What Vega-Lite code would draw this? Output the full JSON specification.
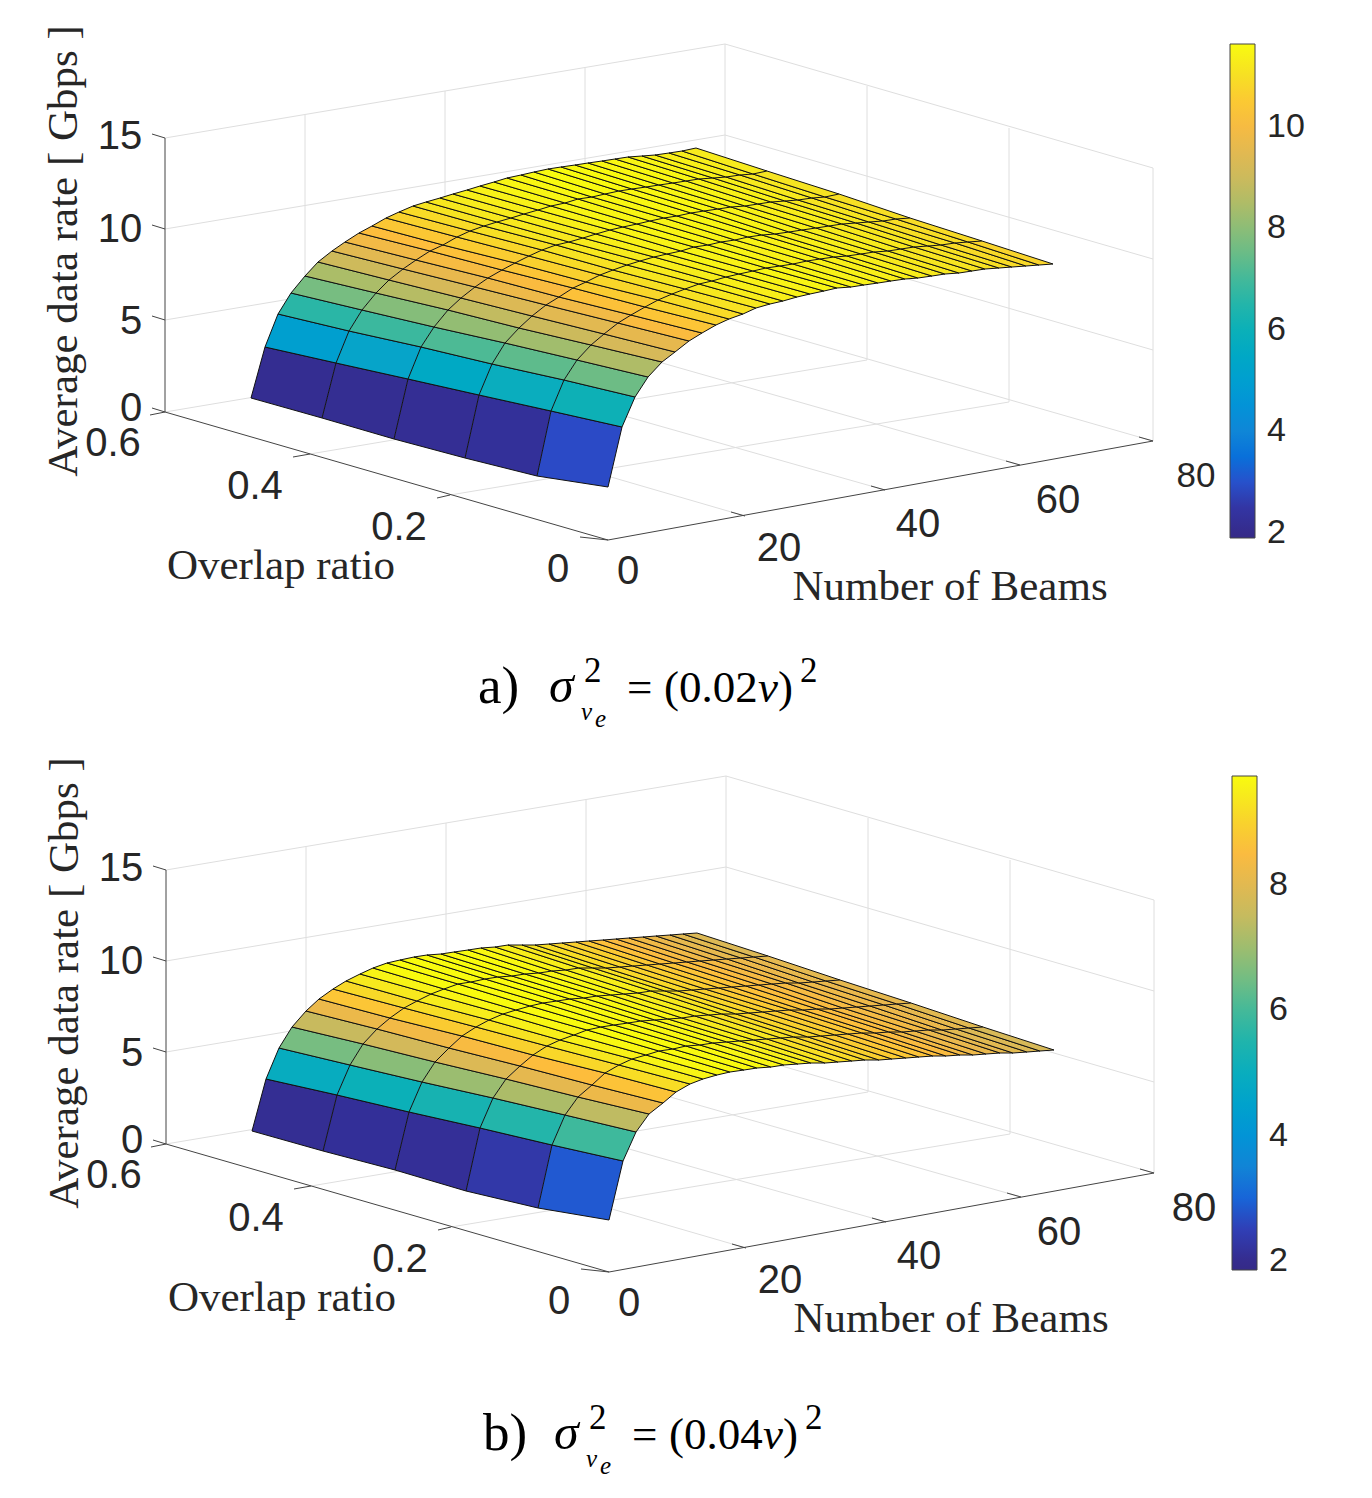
{"$schema":"https://vega.github.io/schema/vega-lite/v6.json","background":"white","padding":0,"spacing":0,"config":{"view":{"stroke":null}},
"resolve":{"scale":{"fill":"independent"},"legend":{"fill":"independent"}},
"datasets":{
"cells_a":[
{"c":4,"v":2.16,"x":[322,251,265,336],"y":[418,398,347,363]},{"c":3,"v":2.19,"x":[394,322,336,408],"y":[439,418,363,379]},{"c":2,"v":2.24,"x":[465,394,408,479],"y":[458,439,379,395]},{"c":1,"v":2.35,"x":[537,465,479,551],"y":[476,458,395,411]},{"c":0,"v":2.9,"x":[608,537,551,622,608],"y":[487,476,411,427,487]},
{"c":14,"v":5.04,"x":[336,265,278,349],"y":[363,347,314,331]},{"c":13,"v":5.29,"x":[408,336,349,421],"y":[379,363,331,347]},{"c":12,"v":5.55,"x":[479,408,421,492],"y":[395,379,347,364]},{"c":11,"v":5.8,"x":[551,479,492,564],"y":[411,395,364,380]},{"c":10,"v":6.05,"x":[622,551,564,635,622],"y":[427,411,380,397,427]},
{"c":24,"v":6.68,"x":[349,278,291,362],"y":[331,314,293,310]},{"c":23,"v":6.9,"x":[421,349,362,434],"y":[347,331,310,327]},{"c":22,"v":7.11,"x":[492,421,434,505],"y":[364,347,327,343]},{"c":21,"v":7.33,"x":[564,492,505,577],"y":[380,364,343,360]},{"c":20,"v":7.55,"x":[635,564,577,648,635],"y":[397,380,360,377,397]},
{"c":34,"v":7.7,"x":[362,291,305,376],"y":[310,293,276,293]},{"c":33,"v":7.9,"x":[434,362,376,448],"y":[327,310,293,310]},{"c":32,"v":8.1,"x":[505,434,448,519],"y":[343,327,310,328]},{"c":31,"v":8.3,"x":[577,505,519,591],"y":[360,343,328,345]},{"c":30,"v":8.5,"x":[648,577,591,662,648],"y":[377,360,345,362,377]},
{"c":44,"v":8.45,"x":[376,305,318,389],"y":[293,276,262,280]},{"c":43,"v":8.6,"x":[448,376,389,461],"y":[310,293,280,298]},{"c":42,"v":8.8,"x":[519,448,461,532],"y":[328,310,298,316]},{"c":41,"v":9.0,"x":[591,519,532,604],"y":[345,328,316,334]},{"c":40,"v":9.2,"x":[662,591,604,675,662],"y":[362,345,334,352,362]},
{"c":54,"v":9.05,"x":[389,318,332,403],"y":[280,262,251,269]},{"c":53,"v":9.2,"x":[461,389,403,475],"y":[298,280,269,287]},{"c":52,"v":9.35,"x":[532,461,475,546],"y":[316,298,287,305]},{"c":51,"v":9.5,"x":[604,532,546,618],"y":[334,316,305,323]},{"c":50,"v":9.6,"x":[675,604,618,689,675],"y":[352,334,323,341,352]},
{"c":64,"v":9.5,"x":[403,332,345,416],"y":[269,251,242,260]},{"c":63,"v":9.65,"x":[475,403,416,488],"y":[287,269,260,278]},{"c":62,"v":9.8,"x":[546,475,488,559],"y":[305,287,278,297]},{"c":61,"v":9.9,"x":[618,546,559,631],"y":[323,305,297,315]},{"c":60,"v":10.1,"x":[689,618,631,702,689],"y":[341,323,315,333,341]},
{"c":74,"v":9.9,"x":[416,345,359,430],"y":[260,242,233,251]},{"c":73,"v":10,"x":[488,416,430,502],"y":[278,260,251,270]},{"c":72,"v":10.1,"x":[559,488,502,573],"y":[297,278,270,288]},{"c":71,"v":10.3,"x":[631,559,573,645],"y":[315,297,288,307]},{"c":70,"v":10.4,"x":[702,631,645,716,702],"y":[333,315,307,325,333]},
{"c":84,"v":10.2,"x":[430,359,372,443],"y":[251,233,226,245]},{"c":83,"v":10.3,"x":[502,430,443,515],"y":[270,251,245,263]},{"c":82,"v":10.4,"x":[573,502,515,586],"y":[288,270,263,282]},{"c":81,"v":10.55,"x":[645,573,586,658],"y":[307,288,282,300]},{"c":80,"v":10.7,"x":[716,645,658,729,716],"y":[325,307,300,319,325]},
{"c":94,"v":10.45,"x":[443,372,386,457],"y":[245,226,218,237]},{"c":93,"v":10.55,"x":[515,443,457,529],"y":[263,245,237,256]},{"c":92,"v":10.65,"x":[586,515,529,600],"y":[282,263,256,275]},{"c":91,"v":10.8,"x":[658,586,600,672],"y":[300,282,275,294]},{"c":90,"v":10.9,"x":[729,658,672,743,729],"y":[319,300,294,314,319]},
{"c":104,"v":10.7,"x":[457,386,399,470],"y":[237,218,212,231]},{"c":103,"v":10.8,"x":[529,457,470,542],"y":[256,237,231,250]},{"c":102,"v":10.9,"x":[600,529,542,613],"y":[275,256,250,270]},{"c":101,"v":11,"x":[672,600,613,685],"y":[294,275,270,289]},{"c":100,"v":11.05,"x":[743,672,685,756,743],"y":[314,294,289,308,314]},
{"c":114,"v":10.9,"x":[470,399,413,484],"y":[231,212,206,226]},{"c":113,"v":11,"x":[542,470,484,556],"y":[250,231,226,245]},{"c":112,"v":11.05,"x":[613,542,556,627],"y":[270,250,245,265]},{"c":111,"v":11.15,"x":[685,613,627,699],"y":[289,270,265,284]},{"c":110,"v":11.2,"x":[756,685,699,770,756],"y":[308,289,284,304,308]},
{"c":124,"v":11.1,"x":[484,413,426,497],"y":[226,206,202,222]},{"c":123,"v":11.15,"x":[556,484,497,569],"y":[245,226,222,242]},{"c":122,"v":11.2,"x":[627,556,569,640],"y":[265,245,242,261]},{"c":121,"v":11.25,"x":[699,627,640,712],"y":[284,265,261,281]},{"c":120,"v":11.3,"x":[770,699,712,783,770],"y":[304,284,281,301,304]},
{"c":134,"v":11.2,"x":[497,426,440,511],"y":[222,202,198,218]},{"c":133,"v":11.2,"x":[569,497,511,583],"y":[242,222,218,238]},{"c":132,"v":11.25,"x":[640,569,583,654],"y":[261,242,238,257]},{"c":131,"v":11.3,"x":[712,640,654,726],"y":[281,261,257,277]},{"c":130,"v":11.35,"x":[783,712,726,797,783],"y":[301,281,277,297,301]},
{"c":144,"v":11.25,"x":[511,440,453,524],"y":[218,198,194,214]},{"c":143,"v":11.3,"x":[583,511,524,596],"y":[238,218,214,234]},{"c":142,"v":11.35,"x":[654,583,596,667],"y":[257,238,234,254]},{"c":141,"v":11.35,"x":[726,654,667,739],"y":[277,257,254,274]},{"c":140,"v":11.4,"x":[797,726,739,810,797],"y":[297,277,274,294,297]},
{"c":154,"v":11.35,"x":[524,453,467,538],"y":[214,194,190,210]},{"c":153,"v":11.35,"x":[596,524,538,610],"y":[234,214,210,230]},{"c":152,"v":11.4,"x":[667,596,610,681],"y":[254,234,230,251]},{"c":151,"v":11.45,"x":[739,667,681,753],"y":[274,254,251,271]},{"c":150,"v":11.45,"x":[810,739,753,824,810],"y":[294,274,271,291,294]},
{"c":164,"v":11.4,"x":[538,467,480,551],"y":[210,190,186,206]},{"c":163,"v":11.45,"x":[610,538,551,623],"y":[230,210,206,227]},{"c":162,"v":11.45,"x":[681,610,623,694],"y":[251,230,227,247]},{"c":161,"v":11.45,"x":[753,681,694,766],"y":[271,251,247,268]},{"c":160,"v":11.5,"x":[824,753,766,837,824],"y":[291,271,268,288,291]},
{"c":174,"v":11.5,"x":[551,480,494,565],"y":[206,186,182,203]},{"c":173,"v":11.5,"x":[623,551,565,637],"y":[227,206,203,224]},{"c":172,"v":11.5,"x":[694,623,637,708],"y":[247,227,224,245]},{"c":171,"v":11.5,"x":[766,694,708,780],"y":[268,247,245,266]},{"c":170,"v":11.5,"x":[837,766,780,851,837],"y":[288,268,266,287,288]},
{"c":184,"v":11.5,"x":[565,494,507,578],"y":[203,182,178,199]},{"c":183,"v":11.5,"x":[637,565,578,650],"y":[224,203,199,221]},{"c":182,"v":11.5,"x":[708,637,650,721],"y":[245,224,221,242]},{"c":181,"v":11.45,"x":[780,708,721,793],"y":[266,245,242,264]},{"c":180,"v":11.45,"x":[851,780,793,864,851],"y":[287,266,264,285,287]},
{"c":194,"v":11.55,"x":[578,507,521,592],"y":[199,178,175,197]},{"c":193,"v":11.5,"x":[650,578,592,664],"y":[221,199,197,218]},{"c":192,"v":11.45,"x":[721,650,664,735],"y":[242,221,218,240]},{"c":191,"v":11.4,"x":[793,721,735,807],"y":[264,242,240,261]},{"c":190,"v":11.4,"x":[864,793,807,878,864],"y":[285,264,261,283,285]},
{"c":204,"v":11.6,"x":[592,521,534,605],"y":[197,175,172,194]},{"c":203,"v":11.55,"x":[664,592,605,677],"y":[218,197,194,216]},{"c":202,"v":11.5,"x":[735,664,677,748],"y":[240,218,216,237]},{"c":201,"v":11.45,"x":[807,735,748,820],"y":[261,240,237,259]},{"c":200,"v":11.4,"x":[878,807,820,891,878],"y":[283,261,259,281,283]},
{"c":214,"v":11.6,"x":[605,534,548,619],"y":[194,172,169,191]},{"c":213,"v":11.55,"x":[677,605,619,691],"y":[216,194,191,213]},{"c":212,"v":11.5,"x":[748,677,691,762],"y":[237,216,213,235]},{"c":211,"v":11.4,"x":[820,748,762,834],"y":[259,237,235,257]},{"c":210,"v":11.35,"x":[891,820,834,905,891],"y":[281,259,257,279,281]},
{"c":224,"v":11.6,"x":[619,548,561,632],"y":[191,169,167,189]},{"c":223,"v":11.55,"x":[691,619,632,704],"y":[213,191,189,211]},{"c":222,"v":11.5,"x":[762,691,704,775],"y":[235,213,211,234]},{"c":221,"v":11.4,"x":[834,762,775,847],"y":[257,235,234,256]},{"c":220,"v":11.35,"x":[905,834,847,918,905],"y":[279,257,256,278,279]},
{"c":234,"v":11.6,"x":[632,561,575,646],"y":[189,167,165,187]},{"c":233,"v":11.55,"x":[704,632,646,718],"y":[211,189,187,209]},{"c":232,"v":11.45,"x":[775,704,718,789],"y":[234,211,209,232]},{"c":231,"v":11.35,"x":[847,775,789,861],"y":[256,234,232,254]},{"c":230,"v":11.3,"x":[918,847,861,932,918],"y":[278,256,254,276,278]},
{"c":244,"v":11.6,"x":[646,575,588,659],"y":[187,165,163,185]},{"c":243,"v":11.5,"x":[718,646,659,731],"y":[209,187,185,207]},{"c":242,"v":11.4,"x":[789,718,731,802],"y":[232,209,207,230]},{"c":241,"v":11.3,"x":[861,789,802,874],"y":[254,232,230,252]},{"c":240,"v":11.2,"x":[932,861,874,945,932],"y":[276,254,252,274,276]},
{"c":254,"v":11.55,"x":[659,588,602,673],"y":[185,163,161,183]},{"c":253,"v":11.5,"x":[731,659,673,745],"y":[207,185,183,206]},{"c":252,"v":11.4,"x":[802,731,745,816],"y":[230,207,206,228]},{"c":251,"v":11.3,"x":[874,802,816,888],"y":[252,230,228,251]},{"c":250,"v":11.2,"x":[945,874,888,959,945],"y":[274,252,251,273,274]},
{"c":264,"v":11.55,"x":[673,602,615,686],"y":[183,161,159,181]},{"c":263,"v":11.45,"x":[745,673,686,758],"y":[206,183,181,204]},{"c":262,"v":11.35,"x":[816,745,758,829],"y":[228,206,204,226]},{"c":261,"v":11.25,"x":[888,816,829,901],"y":[251,228,226,249]},{"c":260,"v":11.15,"x":[959,888,901,972,959],"y":[273,251,249,271,273]},
{"c":274,"v":11.5,"x":[686,615,628,699],"y":[181,159,157,179]},{"c":273,"v":11.4,"x":[758,686,699,771],"y":[204,181,179,202]},{"c":272,"v":11.3,"x":[829,758,771,842],"y":[226,204,202,224]},{"c":271,"v":11.2,"x":[901,829,842,914],"y":[249,226,224,247]},{"c":270,"v":11.1,"x":[972,901,914,985,972],"y":[271,249,247,269,271]},
{"c":284,"v":11.45,"x":[699,628,642,713],"y":[179,157,156,178]},{"c":283,"v":11.35,"x":[771,699,713,785],"y":[202,179,178,201]},{"c":282,"v":11.25,"x":[842,771,785,856],"y":[224,202,201,223]},{"c":281,"v":11.15,"x":[914,842,856,928],"y":[247,224,223,246]},{"c":280,"v":11.05,"x":[985,914,928,999,985],"y":[269,247,246,268,269]},
{"c":294,"v":11.4,"x":[713,642,655,726],"y":[178,156,155,177]},{"c":293,"v":11.3,"x":[785,713,726,798],"y":[201,178,177,200]},{"c":292,"v":11.2,"x":[856,785,798,869],"y":[223,201,200,222]},{"c":291,"v":11.1,"x":[928,856,869,941],"y":[246,223,222,245]},{"c":290,"v":11,"x":[999,928,941,1012,999],"y":[268,246,245,267,268]},
{"c":304,"v":11.35,"x":[726,655,669,740],"y":[177,155,153,175]},{"c":303,"v":11.2,"x":[798,726,740,812],"y":[200,177,175,198]},{"c":302,"v":11.1,"x":[869,798,812,883],"y":[222,200,198,221]},{"c":301,"v":11,"x":[941,869,883,955],"y":[245,222,221,243]},{"c":300,"v":10.9,"x":[1012,941,955,1026,1012],"y":[267,245,243,266,267]},
{"c":314,"v":11.3,"x":[740,669,682,753],"y":[175,153,151,174]},{"c":313,"v":11.15,"x":[812,740,753,825],"y":[198,175,174,197]},{"c":312,"v":11.05,"x":[883,812,825,896],"y":[221,198,197,219]},{"c":311,"v":10.95,"x":[955,883,896,968],"y":[243,221,219,242]},{"c":310,"v":10.85,"x":[1026,955,968,1039,1026],"y":[266,243,242,265,266]},
{"c":324,"v":11.25,"x":[753,682,696,767],"y":[174,151,148,171]},{"c":323,"v":11.1,"x":[825,753,767,839],"y":[197,174,171,194]},{"c":322,"v":11,"x":[896,825,839,910],"y":[219,197,194,218]},{"c":321,"v":10.9,"x":[968,896,910,982],"y":[242,219,218,241]},{"c":320,"v":10.75,"x":[1039,968,982,1053,1039],"y":[265,242,241,264,265]}
],
"cells_b":[
{"c":4,"v":2.11,"x":[323,252,266,337],"y":[1151,1131,1079,1095]},{"c":3,"v":2.2,"x":[395,323,337,409],"y":[1170,1151,1095,1112]},{"c":2,"v":2.18,"x":[466,395,409,480],"y":[1191,1170,1112,1128]},{"c":1,"v":2.38,"x":[538,466,480,552],"y":[1208,1191,1128,1145]},{"c":0,"v":2.85,"x":[609,538,552,623,609],"y":[1220,1208,1145,1161,1220]},
{"c":14,"v":4.98,"x":[337,266,279,350],"y":[1095,1079,1048,1065]},{"c":13,"v":5.18,"x":[409,337,350,422],"y":[1112,1095,1065,1082]},{"c":12,"v":5.36,"x":[480,409,422,493],"y":[1128,1112,1082,1098]},{"c":11,"v":5.58,"x":[552,480,493,565],"y":[1145,1128,1098,1115]},{"c":10,"v":5.94,"x":[623,552,565,636,623],"y":[1161,1145,1115,1132,1161]},
{"c":24,"v":6.56,"x":[350,279,292,363],"y":[1065,1048,1027,1044]},{"c":23,"v":6.77,"x":[422,350,363,435],"y":[1082,1065,1044,1062]},{"c":22,"v":6.97,"x":[493,422,435,506],"y":[1098,1082,1062,1079]},{"c":21,"v":7.18,"x":[565,493,506,578],"y":[1115,1098,1079,1097]},{"c":20,"v":7.39,"x":[636,565,578,649,636],"y":[1132,1115,1097,1114,1132]},
{"c":34,"v":7.55,"x":[363,292,306,377],"y":[1044,1027,1011,1029]},{"c":33,"v":7.72,"x":[435,363,377,449],"y":[1062,1044,1029,1048]},{"c":32,"v":7.9,"x":[506,435,449,520],"y":[1079,1062,1048,1066]},{"c":31,"v":8.07,"x":[578,506,520,592],"y":[1097,1079,1066,1085]},{"c":30,"v":8.24,"x":[649,578,592,663,649],"y":[1114,1097,1085,1103,1114]},
{"c":44,"v":8.22,"x":[377,306,319,390],"y":[1029,1011,999,1018]},{"c":43,"v":8.34,"x":[449,377,390,462],"y":[1048,1029,1018,1036]},{"c":42,"v":8.46,"x":[520,449,462,533],"y":[1066,1048,1036,1055]},{"c":41,"v":8.58,"x":[592,520,533,605],"y":[1085,1066,1055,1073]},{"c":40,"v":8.7,"x":[663,592,605,676,663],"y":[1103,1085,1073,1092,1103]},
{"c":54,"v":8.76,"x":[390,319,333,404],"y":[1018,999,989,1008]},{"c":53,"v":8.87,"x":[462,390,404,476],"y":[1036,1018,1008,1027]},{"c":52,"v":8.98,"x":[533,462,476,547],"y":[1055,1036,1027,1046]},{"c":51,"v":9.09,"x":[605,533,547,619],"y":[1073,1055,1046,1065]},{"c":50,"v":9.2,"x":[676,605,619,690,676],"y":[1092,1073,1065,1084,1092]},
{"c":64,"v":9.12,"x":[404,333,346,417],"y":[1008,989,981,1001]},{"c":63,"v":9.2,"x":[476,404,417,489],"y":[1027,1008,1001,1020]},{"c":62,"v":9.29,"x":[547,476,489,560],"y":[1046,1027,1020,1040]},{"c":61,"v":9.38,"x":[619,547,560,632],"y":[1065,1046,1040,1059]},{"c":60,"v":9.47,"x":[690,619,632,703,690],"y":[1084,1065,1059,1079,1084]},
{"c":74,"v":9.41,"x":[417,346,360,431],"y":[1001,981,974,994]},{"c":73,"v":9.47,"x":[489,417,431,503],"y":[1020,1001,994,1014]},{"c":72,"v":9.52,"x":[560,489,503,574],"y":[1040,1020,1014,1035]},{"c":71,"v":9.57,"x":[632,560,574,646],"y":[1059,1040,1035,1055]},{"c":70,"v":9.63,"x":[703,632,646,717,703],"y":[1079,1059,1055,1075,1079]},
{"c":84,"v":9.6,"x":[431,360,373,444],"y":[994,974,968,989]},{"c":83,"v":9.63,"x":[503,431,444,516],"y":[1014,994,989,1010]},{"c":82,"v":9.66,"x":[574,503,516,587],"y":[1035,1014,1010,1030]},{"c":81,"v":9.69,"x":[646,574,587,659],"y":[1055,1035,1030,1051]},{"c":80,"v":9.72,"x":[717,646,659,730,717],"y":[1075,1055,1051,1072,1075]},
{"c":94,"v":9.78,"x":[444,373,387,458],"y":[989,968,963,984]},{"c":93,"v":9.77,"x":[516,444,458,530],"y":[1010,989,984,1006]},{"c":92,"v":9.76,"x":[587,516,530,601],"y":[1030,1010,1006,1027]},{"c":91,"v":9.75,"x":[659,587,601,673],"y":[1051,1030,1027,1049]},{"c":90,"v":9.74,"x":[730,659,673,744,730],"y":[1072,1051,1049,1070,1072]},
{"c":104,"v":9.9,"x":[458,387,400,471],"y":[984,963,960,982]},{"c":103,"v":9.85,"x":[530,458,471,543],"y":[1006,984,982,1003]},{"c":102,"v":9.8,"x":[601,530,543,614],"y":[1027,1006,1003,1025]},{"c":101,"v":9.78,"x":[673,601,614,686],"y":[1049,1027,1025,1046]},{"c":100,"v":9.74,"x":[744,673,686,757,744],"y":[1070,1049,1046,1068,1070]},
{"c":114,"v":9.78,"x":[471,400,414,485],"y":[982,960,957,979]},{"c":113,"v":9.75,"x":[543,471,485,557],"y":[1003,982,979,1001]},{"c":112,"v":9.72,"x":[614,543,557,628],"y":[1025,1003,1001,1023]},{"c":111,"v":9.7,"x":[686,614,628,700],"y":[1046,1025,1023,1045]},{"c":110,"v":9.69,"x":[757,686,700,771,757],"y":[1068,1046,1045,1067,1068]},
{"c":124,"v":9.8,"x":[485,414,427,498],"y":[979,957,955,977]},{"c":123,"v":9.76,"x":[557,485,498,570],"y":[1001,979,977,999]},{"c":122,"v":9.72,"x":[628,557,570,641],"y":[1023,1001,999,1021]},{"c":121,"v":9.68,"x":[700,628,641,713],"y":[1045,1023,1021,1043]},{"c":120,"v":9.63,"x":[771,700,713,784,771],"y":[1067,1045,1043,1065,1067]},
{"c":134,"v":9.77,"x":[498,427,441,512],"y":[977,955,954,976]},{"c":133,"v":9.73,"x":[570,498,512,584],"y":[999,977,976,998]},{"c":132,"v":9.68,"x":[641,570,584,655],"y":[1021,999,998,1020]},{"c":131,"v":9.63,"x":[713,641,655,727],"y":[1043,1021,1020,1042]},{"c":130,"v":9.58,"x":[784,713,727,798,784],"y":[1065,1043,1042,1064,1065]},
{"c":144,"v":9.8,"x":[512,441,454,525],"y":[976,954,952,974]},{"c":143,"v":9.8,"x":[584,512,525,597],"y":[998,976,974,996]},{"c":142,"v":9.7,"x":[655,584,597,668],"y":[1020,998,996,1019]},{"c":141,"v":9.6,"x":[727,655,668,740],"y":[1042,1020,1019,1041]},{"c":140,"v":9.5,"x":[798,727,740,811,798],"y":[1064,1042,1041,1063,1064]},
{"c":154,"v":9.75,"x":[525,454,468,539],"y":[974,952,950,973]},{"c":153,"v":9.72,"x":[597,525,539,611],"y":[996,974,973,995]},{"c":152,"v":9.62,"x":[668,597,611,682],"y":[1019,996,995,1018]},{"c":151,"v":9.5,"x":[740,668,682,754],"y":[1041,1019,1018,1040]},{"c":150,"v":9.42,"x":[811,740,754,825,811],"y":[1063,1041,1040,1063,1063]},
{"c":164,"v":9.7,"x":[539,468,481,552],"y":[973,950,948,971]},{"c":163,"v":9.65,"x":[611,539,552,624],"y":[995,973,971,994]},{"c":162,"v":9.55,"x":[682,611,624,695],"y":[1018,995,994,1016]},{"c":161,"v":9.42,"x":[754,682,695,767],"y":[1040,1018,1016,1039]},{"c":160,"v":9.3,"x":[825,754,767,838,825],"y":[1063,1040,1039,1062,1063]},
{"c":174,"v":9.62,"x":[552,481,495,566],"y":[971,948,947,970]},{"c":173,"v":9.58,"x":[624,552,566,638],"y":[994,971,970,993]},{"c":172,"v":9.47,"x":[695,624,638,709],"y":[1016,994,993,1015]},{"c":171,"v":9.33,"x":[767,695,709,781],"y":[1039,1016,1015,1038]},{"c":170,"v":9.22,"x":[838,767,781,852,838],"y":[1062,1039,1038,1061,1062]},
{"c":184,"v":9.5,"x":[566,495,508,579],"y":[970,947,945,968]},{"c":183,"v":9.5,"x":[638,566,579,651],"y":[993,970,968,991]},{"c":182,"v":9.4,"x":[709,638,651,722],"y":[1015,993,991,1014]},{"c":181,"v":9.25,"x":[781,709,722,794],"y":[1038,1015,1014,1037]},{"c":180,"v":9.14,"x":[852,781,794,865,852],"y":[1061,1038,1037,1060,1061]},
{"c":194,"v":9.4,"x":[579,508,522,593],"y":[968,945,945,968]},{"c":193,"v":9.4,"x":[651,579,593,665],"y":[991,968,968,991]},{"c":192,"v":9.3,"x":[722,651,665,736],"y":[1014,991,991,1014]},{"c":191,"v":9.15,"x":[794,722,736,808],"y":[1037,1014,1014,1037]},{"c":190,"v":9.03,"x":[865,794,808,879,865],"y":[1060,1037,1037,1060,1060]},
{"c":204,"v":9.3,"x":[593,522,535,606],"y":[968,945,945,968]},{"c":203,"v":9.25,"x":[665,593,606,678],"y":[991,968,968,991]},{"c":202,"v":9.18,"x":[736,665,678,749],"y":[1014,991,991,1013]},{"c":201,"v":9.05,"x":[808,736,749,821],"y":[1037,1014,1013,1036]},{"c":200,"v":8.95,"x":[879,808,821,892,879],"y":[1060,1037,1036,1059,1060]},
{"c":214,"v":9.2,"x":[606,535,549,620],"y":[968,945,944,967]},{"c":213,"v":9.1,"x":[678,606,620,692],"y":[991,968,967,990]},{"c":212,"v":9.05,"x":[749,678,692,763],"y":[1013,991,990,1012]},{"c":211,"v":8.95,"x":[821,749,763,835],"y":[1036,1013,1012,1035]},{"c":210,"v":8.87,"x":[892,821,835,906,892],"y":[1059,1036,1035,1058,1059]},
{"c":224,"v":9.05,"x":[620,549,562,633],"y":[967,944,943,966]},{"c":223,"v":9,"x":[692,620,633,705],"y":[990,967,966,989]},{"c":222,"v":8.95,"x":[763,692,705,776],"y":[1012,990,989,1011]},{"c":221,"v":8.87,"x":[835,763,776,848],"y":[1035,1012,1011,1034]},{"c":220,"v":8.78,"x":[906,835,848,919,906],"y":[1058,1035,1034,1057,1058]},
{"c":234,"v":8.95,"x":[633,562,576,647],"y":[966,943,942,965]},{"c":233,"v":8.9,"x":[705,633,647,719],"y":[989,966,965,988]},{"c":232,"v":8.85,"x":[776,705,719,790],"y":[1011,989,988,1010]},{"c":231,"v":8.78,"x":[848,776,790,862],"y":[1034,1011,1010,1033]},{"c":230,"v":8.7,"x":[919,848,862,933,919],"y":[1057,1034,1033,1056,1057]},
{"c":244,"v":8.8,"x":[647,576,589,660],"y":[965,942,941,964]},{"c":243,"v":8.8,"x":[719,647,660,732],"y":[988,965,964,987]},{"c":242,"v":8.75,"x":[790,719,732,803],"y":[1010,988,987,1010]},{"c":241,"v":8.7,"x":[862,790,803,875],"y":[1033,1010,1010,1033]},{"c":240,"v":8.6,"x":[933,862,875,946,933],"y":[1056,1033,1033,1056,1056]},
{"c":254,"v":8.65,"x":[660,589,603,674],"y":[964,941,940,963]},{"c":253,"v":8.7,"x":[732,660,674,746],"y":[987,964,963,986]},{"c":252,"v":8.67,"x":[803,732,746,817],"y":[1010,987,986,1009]},{"c":251,"v":8.6,"x":[875,803,817,889],"y":[1033,1010,1009,1032]},{"c":250,"v":8.48,"x":[946,875,889,960,946],"y":[1056,1033,1032,1055,1056]},
{"c":264,"v":8.5,"x":[674,603,616,687],"y":[963,940,939,962]},{"c":263,"v":8.6,"x":[746,674,687,759],"y":[986,963,962,985]},{"c":262,"v":8.58,"x":[817,746,759,830],"y":[1009,986,985,1009]},{"c":261,"v":8.52,"x":[889,817,830,902],"y":[1032,1009,1009,1032]},{"c":260,"v":8.37,"x":[960,889,902,973,960],"y":[1055,1032,1032,1055,1055]},
{"c":274,"v":8.4,"x":[687,616,629,700],"y":[962,939,938,961]},{"c":273,"v":8.5,"x":[759,687,700,772],"y":[985,962,961,984]},{"c":272,"v":8.5,"x":[830,759,772,843],"y":[1009,985,984,1008]},{"c":271,"v":8.45,"x":[902,830,843,915],"y":[1032,1009,1008,1031]},{"c":270,"v":8.26,"x":[973,902,915,986,973],"y":[1055,1032,1031,1054,1055]},
{"c":284,"v":8.3,"x":[700,629,643,714],"y":[961,938,937,960]},{"c":283,"v":8.4,"x":[772,700,714,786],"y":[984,961,960,983]},{"c":282,"v":8.42,"x":[843,772,786,857],"y":[1008,984,983,1007]},{"c":281,"v":8.35,"x":[915,843,857,929],"y":[1031,1008,1007,1030]},{"c":280,"v":8.15,"x":[986,915,929,1000,986],"y":[1054,1031,1030,1053,1054]},
{"c":294,"v":8.2,"x":[714,643,656,727],"y":[960,937,936,959]},{"c":293,"v":8.3,"x":[786,714,727,799],"y":[983,960,959,983]},{"c":292,"v":8.33,"x":[857,786,799,870],"y":[1007,983,983,1006]},{"c":291,"v":8.27,"x":[929,857,870,942],"y":[1030,1007,1006,1030]},{"c":290,"v":8.07,"x":[1000,929,942,1013,1000],"y":[1053,1030,1030,1053,1053]},
{"c":304,"v":8.1,"x":[727,656,670,741],"y":[959,936,935,958]},{"c":303,"v":8.2,"x":[799,727,741,813],"y":[983,959,958,982]},{"c":302,"v":8.25,"x":[870,799,813,884],"y":[1006,983,982,1005]},{"c":301,"v":8.2,"x":[942,870,884,956],"y":[1030,1006,1005,1029]},{"c":300,"v":8,"x":[1013,942,956,1027,1013],"y":[1053,1030,1029,1052,1053]},
{"c":314,"v":8,"x":[741,670,683,754],"y":[958,935,934,957]},{"c":313,"v":8.12,"x":[813,741,754,826],"y":[982,958,957,981]},{"c":312,"v":8.18,"x":[884,813,826,897],"y":[1005,982,981,1004]},{"c":311,"v":8.1,"x":[956,884,897,969],"y":[1029,1005,1004,1028]},{"c":310,"v":7.9,"x":[1027,956,969,1040,1027],"y":[1052,1029,1028,1051,1052]},
{"c":324,"v":7.9,"x":[754,683,697,768],"y":[957,934,933,956]},{"c":323,"v":8.05,"x":[826,754,768,840],"y":[981,957,956,980]},{"c":322,"v":8.1,"x":[897,826,840,911],"y":[1004,981,980,1003]},{"c":321,"v":8,"x":[969,897,911,983],"y":[1028,1004,1003,1027]},{"c":320,"v":7.8,"x":[1040,969,983,1054,1040],"y":[1051,1028,1027,1050,1051]}
]},
"vconcat":[
{"width":1372,"height":749,
"encoding":{"x":{"field":"x","type":"quantitative","axis":null,"scale":{"domain":[0,1372],"nice":false,"zero":false}},"y":{"field":"y","type":"quantitative","axis":null,"scale":{"domain":[749,0],"nice":false,"zero":false}}},
"layer":[
{"data":{"values":[{"x":165,"y":138,"x2":725,"y2":44},{"x":165,"y":229,"x2":725,"y2":135},{"x":165,"y":320,"x2":725,"y2":226},{"x":165,"y":412,"x2":725,"y2":318},{"x":305,"y":115,"x2":305,"y2":388},{"x":445,"y":91,"x2":445,"y2":365},{"x":585,"y":68,"x2":585,"y2":341},{"x":725,"y":44,"x2":725,"y2":318},{"x":725,"y":44,"x2":1153,"y2":168},{"x":725,"y":135,"x2":1153,"y2":259},{"x":725,"y":226,"x2":1153,"y2":350},{"x":725,"y":318,"x2":1153,"y2":441},{"x":867,"y":86,"x2":867,"y2":360},{"x":1009,"y":128,"x2":1009,"y2":402},{"x":1153,"y":168,"x2":1153,"y2":441},{"x":305,"y":388,"x2":745,"y2":516},{"x":445,"y":365,"x2":885,"y2":490},{"x":585,"y":341,"x2":1020,"y2":465},{"x":867,"y":360,"x2":310,"y2":454},{"x":1009,"y":402,"x2":450,"y2":495}]},
"mark":{"type":"rule","color":"#dedede","strokeWidth":1},"encoding":{"x2":{"field":"x2"},"y2":{"field":"y2"}}},
{"data":{"values":[{"x":165,"y":138,"x2":165,"y2":412},{"x":165,"y":412,"x2":608,"y2":540},{"x":608,"y":540,"x2":1153,"y2":441},{"x":165,"y":138,"x2":152,"y2":134},{"x":165,"y":229,"x2":152,"y2":225},{"x":165,"y":320,"x2":152,"y2":316},{"x":165,"y":412,"x2":152,"y2":408},{"x":165,"y":412,"x2":150,"y2":415},{"x":310,"y":454,"x2":293,"y2":457},{"x":450,"y":495,"x2":437,"y2":498},{"x":608,"y":540,"x2":580,"y2":537},{"x":745,"y":516,"x2":731,"y2":512},{"x":885,"y":490,"x2":871,"y2":486},{"x":1020,"y":465,"x2":1006,"y2":461},{"x":1153,"y":441,"x2":1139,"y2":437}]},
"mark":{"type":"rule","color":"#444444","strokeWidth":1},"encoding":{"x2":{"field":"x2"},"y2":{"field":"y2"}}},
{"data":{"name":"cells_a"},"transform":[{"flatten":["x","y"]}],
"mark":{"type":"line","stroke":"#111111","strokeWidth":1,"strokeJoin":"round"},
"encoding":{"detail":{"field":"c"},"order":{"value":null},"fill":{"field":"v","type":"quantitative","scale":{"domain":[1.9,11.63],"zero":false,"nice":false,"clamp":true,"range":["#352a87","#33309a","#2c48c5","#1668da","#1481d6","#0c8fd8","#089bd3","#07a4c9","#0aadbe","#1bb3af","#2eb7a4","#58bb8f","#79bd80","#9cbd70","#bebb62","#d6b959","#eab84c","#fdbc3d","#f9d02e","#f6e620","#f9fb0e"]},
"legend":{"orient":"none","legendX":1230,"legendY":44,"title":null,"direction":"vertical","gradientLength":494,"gradientThickness":25,"values":[2,4,6,8,10],"labelFontSize":34,"labelFont":"Liberation Sans","labelColor":"#262626","labelOffset":12,"gradientStrokeColor":"#444444","gradientStrokeWidth":1,"padding":0}}}},
{"data":{"values":[{"x":120,"y":137,"t":"15"},{"x":120,"y":230,"t":"10"},{"x":131,"y":322,"t":"5"},{"x":131,"y":409,"t":"0"},{"x":113,"y":444,"t":"0.6"},{"x":255,"y":487,"t":"0.4"},{"x":399,"y":528,"t":"0.2"},{"x":558,"y":570,"t":"0"},{"x":628,"y":572,"t":"0"},{"x":779,"y":549,"t":"20"},{"x":918,"y":525,"t":"40"},{"x":1058,"y":501,"t":"60"}]},
"mark":{"type":"text","font":"Liberation Sans","fontSize":40,"color":"#262626","align":"center","baseline":"middle"},"encoding":{"text":{"field":"t"}}},
{"data":{"values":[{"x":1196,"y":476,"t":"80"}]},
"mark":{"type":"text","font":"Liberation Sans","fontSize":35,"color":"#262626","align":"center","baseline":"middle"},"encoding":{"text":{"field":"t"}}},
{"data":{"values":[{"x":281,"y":566,"t":"Overlap ratio"},{"x":950,"y":587,"t":"Number of Beams"}]},
"mark":{"type":"text","font":"Liberation Serif","fontSize":43,"color":"#262626","align":"center","baseline":"middle"},"encoding":{"text":{"field":"t"}}},
{"data":{"values":[{"x":64,"y":251,"t":"Average data rate [ Gbps ]"}]},
"mark":{"type":"text","font":"Liberation Serif","fontSize":43,"color":"#262626","align":"center","baseline":"middle","angle":270},"encoding":{"text":{"field":"t"}}},
{"data":{"values":[{"x":478,"y":703,"t":"a)"}]},"mark":{"type":"text","font":"Liberation Serif","fontSize":53,"color":"black","align":"left","baseline":"alphabetic"},"encoding":{"text":{"field":"t"}}},
{"data":{"values":[{"x":549,"y":702,"t":"σ"}]},"mark":{"type":"text","font":"Liberation Serif","fontStyle":"italic","fontSize":50,"color":"black","align":"left","baseline":"alphabetic"},"encoding":{"text":{"field":"t"}}},
{"data":{"values":[{"x":584,"y":682,"t":"2"},{"x":800,"y":682,"t":"2"}]},"mark":{"type":"text","font":"Liberation Serif","fontSize":35,"color":"black","align":"left","baseline":"alphabetic"},"encoding":{"text":{"field":"t"}}},
{"data":{"values":[{"x":581,"y":720,"t":"v"},{"x":595,"y":727,"t":"e"}]},"mark":{"type":"text","font":"Liberation Serif","fontStyle":"italic","fontSize":25,"color":"black","align":"left","baseline":"alphabetic"},"encoding":{"text":{"field":"t"}}},
{"data":{"values":[{"x":627,"y":702,"t":"="},{"x":664,"y":702,"t":"(0.02"},{"x":778,"y":702,"t":")"}]},"mark":{"type":"text","font":"Liberation Serif","fontSize":45,"color":"black","align":"left","baseline":"alphabetic"},"encoding":{"text":{"field":"t"}}},
{"data":{"values":[{"x":758,"y":702,"t":"v"}]},"mark":{"type":"text","font":"Liberation Serif","fontStyle":"italic","fontSize":45,"color":"black","align":"left","baseline":"alphabetic"},"encoding":{"text":{"field":"t"}}}
]},
{"width":1372,"height":749,
"encoding":{"x":{"field":"x","type":"quantitative","axis":null,"scale":{"domain":[0,1372],"nice":false,"zero":false}},"y":{"field":"y","type":"quantitative","axis":null,"scale":{"domain":[1498,749],"nice":false,"zero":false}}},
"layer":[
{"data":{"values":[{"x":166,"y":870,"x2":726,"y2":776},{"x":166,"y":961,"x2":726,"y2":867},{"x":166,"y":1052,"x2":726,"y2":958},{"x":166,"y":1144,"x2":726,"y2":1050},{"x":306,"y":847,"x2":306,"y2":1120},{"x":446,"y":823,"x2":446,"y2":1097},{"x":586,"y":800,"x2":586,"y2":1073},{"x":726,"y":776,"x2":726,"y2":1050},{"x":726,"y":776,"x2":1154,"y2":900},{"x":726,"y":867,"x2":1154,"y2":991},{"x":726,"y":958,"x2":1154,"y2":1082},{"x":726,"y":1050,"x2":1154,"y2":1173},{"x":868,"y":818,"x2":868,"y2":1092},{"x":1010,"y":860,"x2":1010,"y2":1134},{"x":1154,"y":900,"x2":1154,"y2":1173},{"x":306,"y":1120,"x2":746,"y2":1248},{"x":446,"y":1097,"x2":886,"y2":1222},{"x":586,"y":1073,"x2":1021,"y2":1197},{"x":868,"y":1092,"x2":311,"y2":1186},{"x":1010,"y":1134,"x2":451,"y2":1227}]},
"mark":{"type":"rule","color":"#dedede","strokeWidth":1},"encoding":{"x2":{"field":"x2"},"y2":{"field":"y2"}}},
{"data":{"values":[{"x":166,"y":870,"x2":166,"y2":1144},{"x":166,"y":1144,"x2":609,"y2":1272},{"x":609,"y":1272,"x2":1154,"y2":1173},{"x":166,"y":870,"x2":153,"y2":866},{"x":166,"y":961,"x2":153,"y2":957},{"x":166,"y":1052,"x2":153,"y2":1048},{"x":166,"y":1144,"x2":153,"y2":1140},{"x":166,"y":1144,"x2":151,"y2":1147},{"x":311,"y":1186,"x2":294,"y2":1189},{"x":451,"y":1227,"x2":438,"y2":1230},{"x":609,"y":1272,"x2":581,"y2":1269},{"x":746,"y":1248,"x2":732,"y2":1244},{"x":886,"y":1222,"x2":872,"y2":1218},{"x":1021,"y":1197,"x2":1007,"y2":1193},{"x":1154,"y":1173,"x2":1140,"y2":1169}]},
"mark":{"type":"rule","color":"#444444","strokeWidth":1},"encoding":{"x2":{"field":"x2"},"y2":{"field":"y2"}}},
{"data":{"name":"cells_b"},"transform":[{"flatten":["x","y"]}],
"mark":{"type":"line","stroke":"#111111","strokeWidth":1,"strokeJoin":"round"},
"encoding":{"detail":{"field":"c"},"order":{"value":null},"fill":{"field":"v","type":"quantitative","scale":{"domain":[1.85,9.75],"zero":false,"nice":false,"clamp":true,"range":["#352a87","#33309a","#2c48c5","#1668da","#1481d6","#0c8fd8","#089bd3","#07a4c9","#0aadbe","#1bb3af","#2eb7a4","#58bb8f","#79bd80","#9cbd70","#bebb62","#d6b959","#eab84c","#fdbc3d","#f9d02e","#f6e620","#f9fb0e"]},
"legend":{"orient":"none","legendX":1232,"legendY":27,"title":null,"direction":"vertical","gradientLength":494,"gradientThickness":25,"values":[2,4,6,8],"labelFontSize":34,"labelFont":"Liberation Sans","labelColor":"#262626","labelOffset":12,"gradientStrokeColor":"#444444","gradientStrokeWidth":1,"padding":0}}}},
{"data":{"values":[{"x":121,"y":869,"t":"15"},{"x":121,"y":962,"t":"10"},{"x":132,"y":1054,"t":"5"},{"x":132,"y":1141,"t":"0"},{"x":114,"y":1176,"t":"0.6"},{"x":256,"y":1219,"t":"0.4"},{"x":400,"y":1260,"t":"0.2"},{"x":559,"y":1302,"t":"0"},{"x":629,"y":1304,"t":"0"},{"x":780,"y":1281,"t":"20"},{"x":919,"y":1257,"t":"40"},{"x":1059,"y":1233,"t":"60"},{"x":1194,"y":1209,"t":"80"}]},
"mark":{"type":"text","font":"Liberation Sans","fontSize":40,"color":"#262626","align":"center","baseline":"middle"},"encoding":{"text":{"field":"t"}}},
{"data":{"values":[{"x":282,"y":1298,"t":"Overlap ratio"},{"x":951,"y":1319,"t":"Number of Beams"}]},
"mark":{"type":"text","font":"Liberation Serif","fontSize":43,"color":"#262626","align":"center","baseline":"middle"},"encoding":{"text":{"field":"t"}}},
{"data":{"values":[{"x":65,"y":983,"t":"Average data rate [ Gbps ]"}]},
"mark":{"type":"text","font":"Liberation Serif","fontSize":43,"color":"#262626","align":"center","baseline":"middle","angle":270},"encoding":{"text":{"field":"t"}}},
{"data":{"values":[{"x":483,"y":1450,"t":"b)"}]},"mark":{"type":"text","font":"Liberation Serif","fontSize":53,"color":"black","align":"left","baseline":"alphabetic"},"encoding":{"text":{"field":"t"}}},
{"data":{"values":[{"x":554,"y":1449,"t":"σ"}]},"mark":{"type":"text","font":"Liberation Serif","fontStyle":"italic","fontSize":50,"color":"black","align":"left","baseline":"alphabetic"},"encoding":{"text":{"field":"t"}}},
{"data":{"values":[{"x":589,"y":1429,"t":"2"},{"x":805,"y":1429,"t":"2"}]},"mark":{"type":"text","font":"Liberation Serif","fontSize":35,"color":"black","align":"left","baseline":"alphabetic"},"encoding":{"text":{"field":"t"}}},
{"data":{"values":[{"x":586,"y":1467,"t":"v"},{"x":600,"y":1474,"t":"e"}]},"mark":{"type":"text","font":"Liberation Serif","fontStyle":"italic","fontSize":25,"color":"black","align":"left","baseline":"alphabetic"},"encoding":{"text":{"field":"t"}}},
{"data":{"values":[{"x":632,"y":1449,"t":"="},{"x":669,"y":1449,"t":"(0.04"},{"x":783,"y":1449,"t":")"}]},"mark":{"type":"text","font":"Liberation Serif","fontSize":45,"color":"black","align":"left","baseline":"alphabetic"},"encoding":{"text":{"field":"t"}}},
{"data":{"values":[{"x":763,"y":1449,"t":"v"}]},"mark":{"type":"text","font":"Liberation Serif","fontStyle":"italic","fontSize":45,"color":"black","align":"left","baseline":"alphabetic"},"encoding":{"text":{"field":"t"}}}
]}
]}
